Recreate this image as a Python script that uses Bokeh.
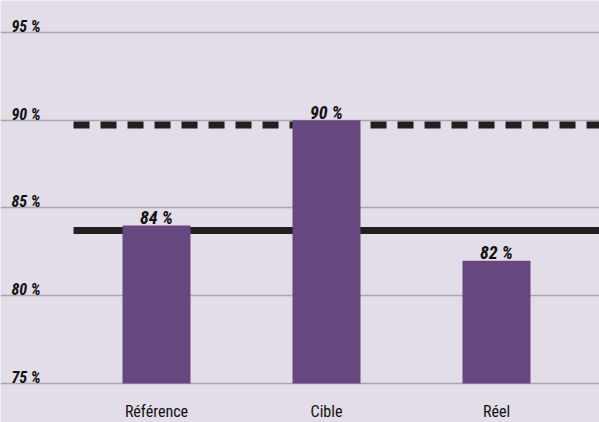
from bokeh.plotting import figure
from bokeh.models import Range1d, FixedTicker, ColumnDataSource
from bokeh.core.properties import value
from bokeh.embed import file_html
from bokeh.resources import INLINE

# ---- data ----
categories = ["Référence", "Cible", "Réel"]
values = [84, 90, 82]
value_labels = ["84 %", "90 %", "82 %"]
y_ticks = [75, 80, 85, 90, 95]
y_tick_labels = ["75 %", "80 %", "85 %", "90 %", "95 %"]
reference_level = 83.72   # solid line
target_level = 89.73      # dashed line
base = 75

BG = "#e3dce9"
BAR = "#67477f"
DARK = "#231f20"
FONT = "Roboto Condensed, DejaVu Sans Condensed, Roboto"

y0, y1 = 72.778, 96.823
x0, x1 = -0.9176, 2.6059

p = figure(width=599, height=422, output_backend="svg", toolbar_location=None,
           x_range=Range1d(x0, x1), y_range=Range1d(y0, y1),
           min_border=0, background_fill_color=BG, border_fill_color=BG,
           outline_line_color=None)
p.xaxis.visible = False
p.yaxis.visible = False
p.xgrid.visible = False
p.ygrid.ticker = FixedTicker(ticks=y_ticks)
p.ygrid.grid_line_color = "#a9a6ad"
p.ygrid.grid_line_width = 1.5

xs = list(range(len(categories)))

# reference lines
line_start = -0.488
p.segment(x0=[line_start], x1=[x1], y0=[reference_level], y1=[reference_level],
          line_color=DARK, line_width=7)
p.segment(x0=[line_start], x1=[x1], y0=[target_level], y1=[target_level],
          line_color=DARK, line_width=7, line_dash="16 11")

src = ColumnDataSource(dict(x=xs, top=values, lab=value_labels, cat=categories))
p.vbar(x="x", top="top", bottom=base, width=0.4, source=src,
       fill_color=BAR, line_color=None)

# value labels
p.text(x="x", y="top", text="lab", source=src, text_align="center",
       text_baseline="alphabetic", y_offset=-8,
       text_font=value(FONT), text_font_size="18px", text_font_style="bold italic",
       text_color="#111111")

# category labels
p.text(x="x", y=y0, text="cat", source=src, text_align="center",
       text_baseline="alphabetic", y_offset=-11,
       text_font=value(FONT), text_font_size="16px", text_color="#111111")

# y tick labels
tsrc = ColumnDataSource(dict(y=y_ticks, lab=y_tick_labels))
p.text(x=x0, y="y", text="lab", source=tsrc, text_align="left",
       text_baseline="alphabetic", x_offset=11, y_offset=-6,
       text_font=value(FONT), text_font_size="16px", text_font_style="bold italic",
       text_color="#111111")

open("out.html", "w").write(file_html(p, INLINE))
